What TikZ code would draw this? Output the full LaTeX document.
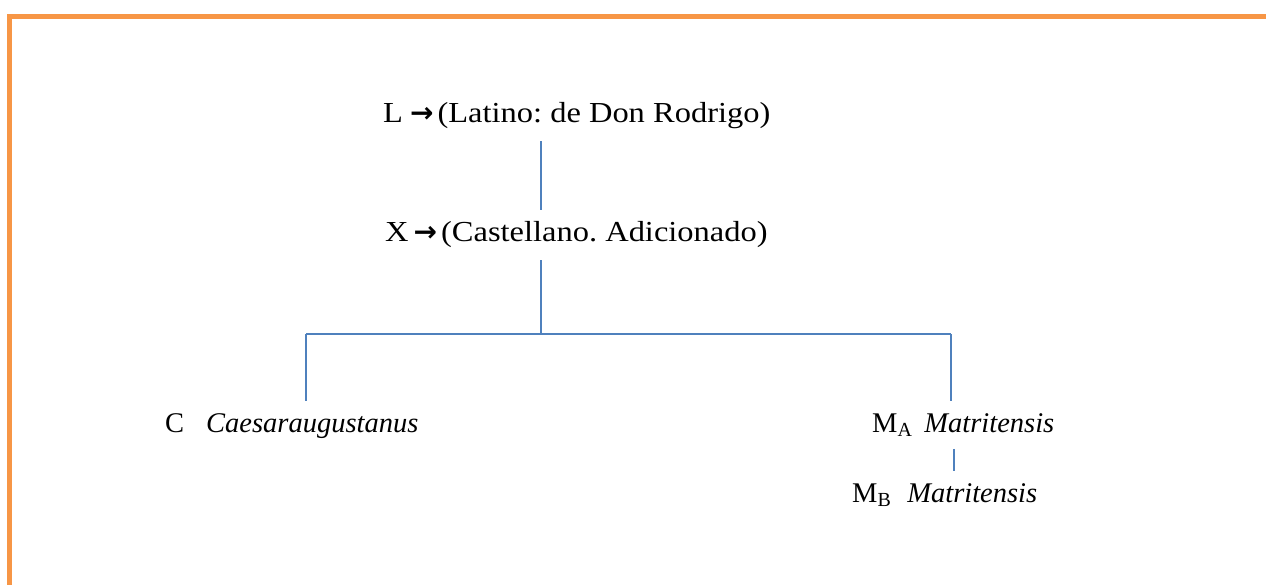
\documentclass[tikz,border=0pt]{standalone}
\usepackage{fontspec}
\setmainfont{Liberation Serif}
\newfontfamily\wideserif[FakeStretch=1.12]{Liberation Serif}
\newfontfamily\arrowfont{DejaVu Sans}
\definecolor{brdorange}{HTML}{F79646}
\definecolor{lnblue}{HTML}{4F81BD}
\frenchspacing
\begin{document}
\begin{tikzpicture}[x=1pt,y=-1pt,
  lbl/.style={anchor=base west,inner xsep=0pt,inner ysep=12pt,font=\fontsize{28.5}{32}\selectfont},
  toplbl/.style={lbl,font=\fontsize{29}{33}\wideserif},
  conn/.style={draw=lnblue,line width=2pt}]
\useasboundingbox (0,0) rectangle (1266,585);
% border
\fill[brdorange] (7,14) rectangle (1266,19);
\fill[brdorange] (7,14) rectangle (12,585);
% nodes
\node[toplbl] (L) at (383,123) {L\hspace{7pt}{\fontsize{28}{32}\arrowfont\bfseries →}\hspace{4pt}(Latino: de Don Rodrigo)};
\node[toplbl] (X) at (385,242) {X\hspace{5pt}{\fontsize{28}{32}\arrowfont\bfseries →}\hspace{4pt}(Castellano. Adicionado)};
\node[lbl] (C) at (165,432) {C\hspace{22pt}\textit{Caesaraugustanus}};
\node[lbl] (MA) at (872,432) {M\textsubscript{A}\hspace{12pt}\textit{Matritensis}};
\node[lbl] (MB) at (852,502) {M\textsubscript{B}\hspace{16pt}\textit{Matritensis}};
% junction coordinates
\coordinate (jt) at (541,334);
\coordinate (jl) at (306,334);
\coordinate (jr) at (951,334);
\coordinate (jm) at (954,0);
% connectors
\draw[conn] (L.south -| jt) -- (X.north -| jt);
\draw[conn] (X.south -| jt) -- (jt);
\draw[conn] (jl) -- (jr);
\draw[conn] (jl) -- (C.north -| jl);
\draw[conn] (jr) -- (MA.north -| jr);
\draw[conn] (MA.south -| jm) -- (MB.north -| jm);
\end{tikzpicture}
\end{document}
